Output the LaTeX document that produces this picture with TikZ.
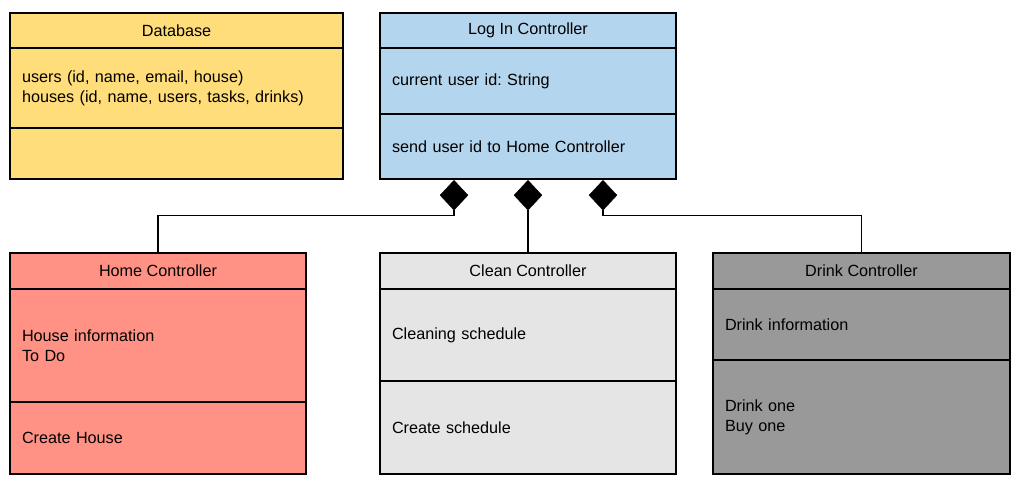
\documentclass[tikz,border=0pt]{standalone}
\usepackage{fontspec}
\setmainfont{Liberation Sans}
\frenchspacing
\usetikzlibrary{positioning,shapes.geometric}
\definecolor{dbyellow}{RGB}{255,221,122}
\definecolor{loginblue}{RGB}{180,213,238}
\definecolor{homered}{RGB}{255,146,132}
\definecolor{cleangray}{RGB}{229,229,229}
\definecolor{drinkgray}{RGB}{153,153,153}
\begin{document}
\begin{tikzpicture}[x=1pt,y=-1pt,
part/.style={
% The compartments:
rectangle,
draw=black,
line width=1.3pt,
outer sep=0pt,
inner sep=0pt,
font=\fontsize{16.2}{20}\selectfont
},
head/.style={part,minimum height=35pt,align=center},
body/.style={part,text width=#1-24pt,minimum width=#1,align=left},
owns/.style={
diamond,fill=black,draw=black,
minimum width=28pt,minimum height=30pt,inner sep=0pt
}
]
\useasboundingbox (0,0) rectangle (1022,484);
% Top row:
\node (dbhead) [head,fill=dbyellow,minimum width=333pt,anchor=north west] at (10,13) {Database};
\node (dbattr) [body=333pt,fill=dbyellow,minimum height=80pt,below=0pt of dbhead] {users (id, name, email, house)\\houses (id, name, users, tasks, drinks)};
\node (dbops) [body=333pt,fill=dbyellow,minimum height=51pt,below=0pt of dbattr] {};
\node (loginhead) [head,fill=loginblue,minimum width=296pt,anchor=north west] at (380,13) {Log In Controller};
\node (loginattr) [body=296pt,fill=loginblue,minimum height=66pt,below=0pt of loginhead] {current user id: String};
\node (loginops) [body=296pt,fill=loginblue,minimum height=65pt,below=0pt of loginattr] {send user id to Home Controller};
% Bottom row:
\node (homehead) [head,fill=homered,minimum width=296pt,minimum height=36pt,anchor=north west] at (10,253) {Home Controller};
\node (homeattr) [body=296pt,fill=homered,minimum height=113pt,below=0pt of homehead] {House information\\To Do};
\node (homeops) [body=296pt,fill=homered,minimum height=72pt,below=0pt of homeattr] {Create House};
\node (cleanhead) [head,fill=cleangray,minimum width=296pt,minimum height=36pt,anchor=north west] at (380,253) {Clean Controller};
\node (cleanattr) [body=296pt,fill=cleangray,minimum height=92pt,below=0pt of cleanhead] {Cleaning schedule};
\node (cleanops) [body=296pt,fill=cleangray,minimum height=93pt,below=0pt of cleanattr] {Create schedule};
\node (drinkhead) [head,fill=drinkgray,minimum width=297pt,minimum height=36pt,anchor=north west] at (713,253) {Drink Controller};
\node (drinkattr) [body=297pt,fill=drinkgray,minimum height=71pt,below=0pt of drinkhead] {Drink information};
\node (drinkops) [body=297pt,fill=drinkgray,minimum height=114pt,below=0pt of drinkattr] {Drink one\\Buy one};
% Composition diamonds:
\node (ownhome) [owns,anchor=north] at (454,180) {};
\node (ownclean) [owns,anchor=north] at (528,180) {};
\node (owndrink) [owns,anchor=north] at (603,180) {};
\draw[line width=1.3pt] (ownhome.south) -- ++(0,5) -| (homehead.north);
\draw[line width=1.3pt] (ownclean.south) -- (cleanhead.north);
\draw[line width=1.3pt] (owndrink.south) -- ++(0,5) -| (drinkhead.north);
\end{tikzpicture}
\end{document}
